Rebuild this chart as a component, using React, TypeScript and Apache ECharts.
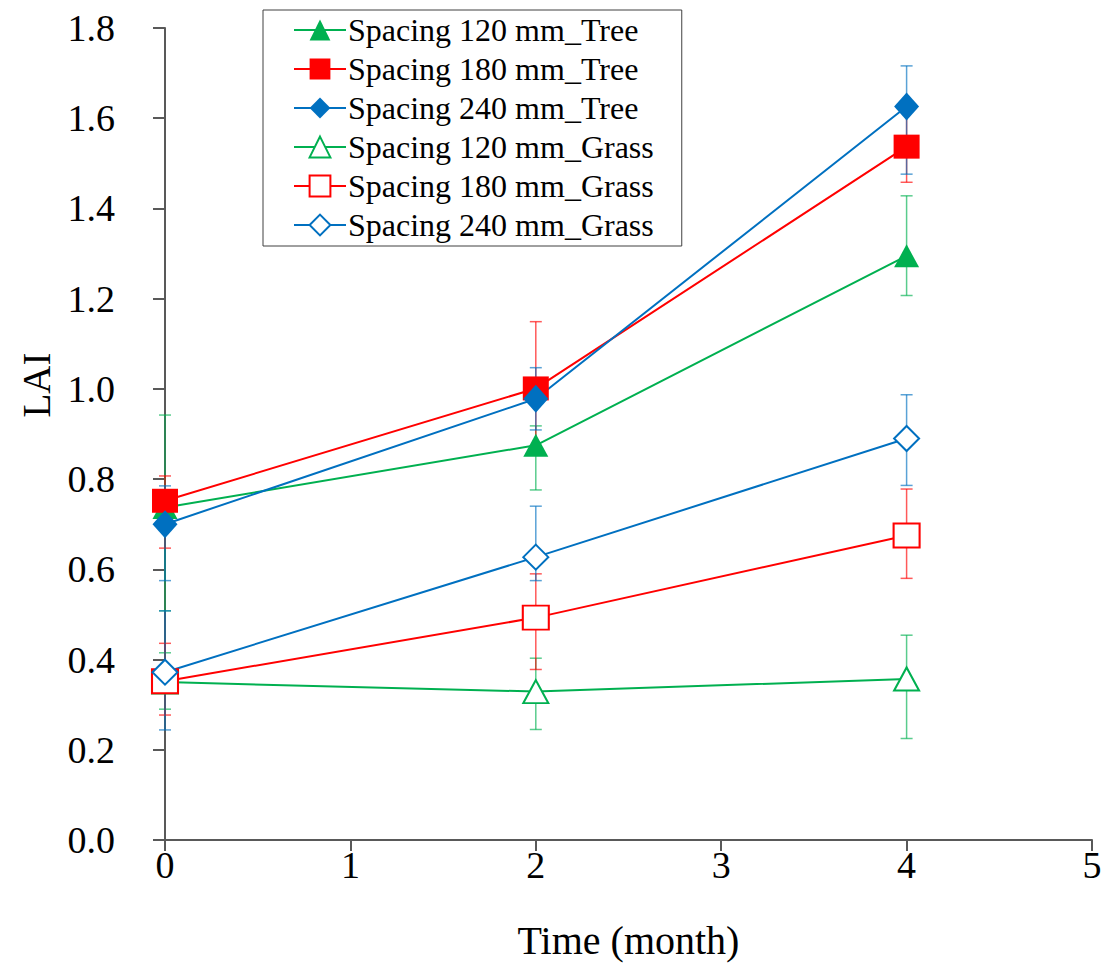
import React, { useEffect, useRef } from "react";
import * as echarts from "echarts";

const times = [0, 2, 4];
const xTicks = [0, 1, 2, 3, 4, 5];

const seriesNames = [
  "Spacing 120 mm_Tree",
  "Spacing 180 mm_Tree",
  "Spacing 240 mm_Tree",
  "Spacing 120 mm_Grass",
  "Spacing 180 mm_Grass",
  "Spacing 240 mm_Grass",
];

const tree120 = [0.737, 0.875, 1.295];
const tree180 = [0.752, 1.001, 1.537];
const tree240 = [0.7, 0.978, 1.626];
const grass120 = [0.35, 0.329, 0.357];
const grass180 = [0.352, 0.493, 0.675];
const grass240 = [0.372, 0.627, 0.89];

const tree120Low = [0.508, 0.776, 1.207];
const tree120High = [0.942, 0.918, 1.428];
const tree180Low = [0.647, 0.86, 1.458];
const tree180High = [0.807, 1.149, 1.62];
const tree240Low = [0.575, 0.909, 1.476];
const tree240High = [0.785, 1.047, 1.716];
const grass120Low = [0.29, 0.245, 0.225];
const grass120High = [0.415, 0.403, 0.454];
const grass180Low = [0.277, 0.378, 0.58];
const grass180High = [0.436, 0.59, 0.778];
const grass240Low = [0.244, 0.575, 0.786];
const grass240High = [0.508, 0.74, 0.987];

const GREEN = "#00B050";
const RED = "#FF0000";
const BLUE = "#0070C0";
const FONT = "'Liberation Serif', 'Times New Roman', serif";

const values = [tree120, tree180, tree240, grass120, grass180, grass240];
const lows = [tree120Low, tree180Low, tree240Low, grass120Low, grass180Low, grass240Low];
const highs = [tree120High, tree180High, tree240High, grass120High, grass180High, grass240High];
const colors = [GREEN, RED, BLUE, GREEN, RED, BLUE];
const symbols = ["triangle", "rect", "diamond", "emptyTriangle", "emptyRect", "emptyDiamond"];
const sizes: number[][] = [[25, 23], [26, 24], [25, 28], [25, 23], [26, 24], [25, 25]];

export default function App() {
  const ref = useRef<HTMLDivElement>(null);
  useEffect(() => {
    if (!ref.current) return;
    const chart = echarts.init(ref.current, null, { renderer: "svg" });

    const lineSeries = seriesNames.map((name, i) => ({
      name,
      type: "line",
      z: 3,
      data: times.map((t, j) => [t, values[i][j]]),
      symbol: symbols[i],
      symbolSize: sizes[i],
      showAllSymbol: true,
      lineStyle: { color: colors[i], width: 2 },
      itemStyle: {
        color: colors[i],
        borderColor: colors[i],
        borderWidth: i >= 3 ? 3 : 0,
      },
    }));

    const errSeries = seriesNames.map((name, i) => ({
      name: name + " error",
      type: "custom",
      z: 2,
      data: times.map((t, j) => [t, lows[i][j], highs[i][j]]),
      encode: { x: 0, y: [1, 2] },
      renderItem: (params: any, api: any) => {
        const x = api.value(0);
        const p1 = api.coord([x, api.value(1)]);
        const p2 = api.coord([x, api.value(2)]);
        const hw = 6;
        const style = { stroke: colors[i], lineWidth: 1.5, opacity: 0.65 };
        return {
          type: "group",
          children: [
            { type: "line", shape: { x1: p1[0], y1: p1[1], x2: p2[0], y2: p2[1] }, style },
            { type: "line", shape: { x1: p1[0] - hw, y1: p1[1], x2: p1[0] + hw, y2: p1[1] }, style },
            { type: "line", shape: { x1: p2[0] - hw, y1: p2[1], x2: p2[0] + hw, y2: p2[1] }, style },
          ],
        };
      },
    }));

    chart.setOption({
      animation: false,
      backgroundColor: "#fff",
      grid: { left: 165, top: 28, width: 927, height: 812, containLabel: false },
      legend: {
        data: seriesNames,
        orient: "vertical",
        left: 263,
        top: 10,
        padding: [4, 28, 5, 30],
        itemGap: 7,
        itemWidth: 52,
        itemHeight: 26,
        borderColor: "#404040",
        borderWidth: 1,
        backgroundColor: "#fff",
        textStyle: { fontFamily: FONT, fontSize: 32, color: "#000", lineHeight: 30, padding: [0, 0, 0, -3] },
      },
      graphic: [
        {
          type: "text",
          x: 36,
          y: 385,
          rotation: Math.PI / 2,
          style: {
            text: "LAI",
            font: "39px " + FONT,
            fill: "#000",
            textAlign: "center",
            textVerticalAlign: "middle",
          },
        },
      ],
      xAxis: {
        type: "value",
        min: 0,
        max: 5,
        interval: 1,
        name: "Time (month)",
        nameLocation: "middle",
        nameGap: 80,
        nameTextStyle: { fontFamily: FONT, fontSize: 40, color: "#000" },
        axisLine: { show: true, lineStyle: { color: "#595959", width: 2 } },
        axisTick: { show: true, inside: false, length: 11, lineStyle: { color: "#595959", width: 2 } },
        axisLabel: {
          fontFamily: FONT,
          fontSize: 38,
          color: "#000",
          margin: 6,
          formatter: (v: number) => (xTicks.includes(v) ? String(v) : ""),
        },
        splitLine: { show: false },
      },
      yAxis: {
        type: "value",
        min: 0,
        max: 1.8,
        interval: 0.2,
        axisLine: { show: true, lineStyle: { color: "#595959", width: 2 } },
        axisTick: { show: true, inside: false, length: 12, lineStyle: { color: "#595959", width: 2 } },
        axisLabel: {
          fontFamily: FONT,
          fontSize: 38,
          color: "#000",
          margin: 50,
          formatter: (v: number) => v.toFixed(1),
        },
        splitLine: { show: false },
      },
      series: [...errSeries, ...lineSeries],
    });
    return () => chart.dispose();
  }, []);

  return (
    <div
      ref={ref}
      style={{ position: "fixed", left: 0, top: 0, width: 1115, height: 967, background: "#fff" }}
    />
  );
}
